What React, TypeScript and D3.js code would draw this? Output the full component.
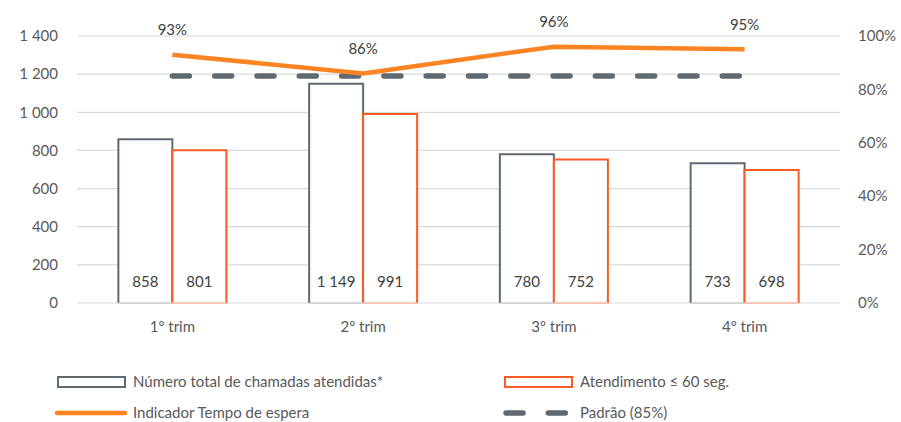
import React from 'react';
import * as d3 from 'd3';

const categories = ['1º trim', '2º trim', '3º trim', '4º trim'];
const totalCalls = [858, 1149, 780, 733];
const within60 = [801, 991, 752, 698];
const waitIndicator = [0.93, 0.86, 0.96, 0.95];
const standard = [0.85, 0.85, 0.85, 0.85];
const leftTicks = [0, 200, 400, 600, 800, 1000, 1200, 1400];
const rightTicks = [0, 0.2, 0.4, 0.6, 0.8, 1];

const GRAY = '#5f6a72';
const RED = '#fc5a24';
const ORANGE = '#fd8422';
const TEXT = '#595959';
const FONT = 'Lato, "Open Sans", sans-serif';

const fmt = (v: number) => d3.format(',')(v).replace(/,/g, ' ');

const App = () => {
  const W = 901, H = 422;
  const left = 77, right = 840, top = 36, bottom = 303;

  const x = d3.scaleBand<string>().domain(categories).range([left, right]);
  const y = d3.scaleLinear().domain([0, 1400]).range([bottom, top]);
  const y2 = d3.scaleLinear().domain([0, 1]).range([bottom, top]);
  const barW = 54;
  const cx = (c: string) => (x(c) as number) + x.bandwidth() / 2;

  const line = d3.line<number>()
    .x((_, i) => cx(categories[i]))
    .y(d => y2(d));

  // open-bottom bar outline
  const barPath = (x0: number, v: number) =>
    `M${x0},${y(0)}V${y(v)}H${x0 + barW}V${y(0)}`;

  return (
    <svg width={W} height={H} style={{ position: 'absolute', left: 0, top: 0 }} fontFamily={FONT}>
      <rect width={W} height={H} fill="#fff" />
      {leftTicks.map(t => (
        <g key={t}>
          <line x1={left} x2={right} y1={y(t)} y2={y(t)} stroke="#d9d9d9" strokeWidth={1.2} />
          <text x={58} y={y(t)} dy="0.35em" textAnchor="end" fontSize={15} fill={TEXT}>{fmt(t)}</text>
        </g>
      ))}
      {rightTicks.map(t => (
        <text key={t} x={858} y={y2(t)} dy="0.35em" fontSize={15} fill={TEXT}>{d3.format('.0%')(t)}</text>
      ))}
      {categories.map((c, i) => (
        <g key={c}>
          <path d={barPath(cx(c) - barW, totalCalls[i])} fill="#fff" stroke={GRAY} strokeWidth={2} />
          <path d={barPath(cx(c), within60[i])} fill="#fff" stroke={RED} strokeWidth={2} />
          <line x1={cx(c) - barW} x2={cx(c)} y1={bottom} y2={bottom} stroke="#c9cdd0" strokeWidth={1.5} />
          <line x1={cx(c)} x2={cx(c) + barW} y1={bottom} y2={bottom} stroke="#f9b8a1" strokeWidth={1.5} />
          <text x={cx(c) - barW / 2} y={282} dy="0.35em" textAnchor="middle" fontSize={15} fill="#404040">{fmt(totalCalls[i])}</text>
          <text x={cx(c) + barW / 2} y={282} dy="0.35em" textAnchor="middle" fontSize={15} fill="#404040">{fmt(within60[i])}</text>
          <text x={cx(c)} y={327} dy="0.35em" textAnchor="middle" fontSize={15} fill={TEXT}>{c}</text>
        </g>
      ))}
      <path d={line(standard) || ''} fill="none" stroke={GRAY} strokeWidth={5.5}
        strokeDasharray="17 25.3" strokeLinecap="round" />
      <path d={line(waitIndicator) || ''} fill="none" stroke={ORANGE} strokeWidth={4.5} />
      {waitIndicator.map((v, i) => (
        <text key={i} x={cx(categories[i])} y={y2(v) - 25} dy="0.35em" textAnchor="middle" fontSize={15} fill="#404040">
          {d3.format('.0%')(v)}
        </text>
      ))}
      {/* legend */}
      <g fontSize={15} fill={TEXT}>
        <rect x={58} y={377} width={67} height={10} fill="#fff" stroke={GRAY} strokeWidth={2} />
        <text x={133} y={382} dy="0.35em">Número total de chamadas atendidas*</text>
        <rect x={505} y={377} width={67} height={10} fill="#fff" stroke={RED} strokeWidth={2} />
        <text x={580} y={382} dy="0.35em">Atendimento ≤ 60 seg.</text>
        <line x1={57} x2={125} y1={413} y2={413} stroke={ORANGE} strokeWidth={4.5} strokeLinecap="round" />
        <text x={133} y={413} dy="0.35em">Indicador Tempo de espera</text>
        <line x1={506} x2={570} y1={413} y2={413} stroke={GRAY} strokeWidth={5.5}
          strokeDasharray="17 25.3" strokeLinecap="round" />
        <text x={580} y={413} dy="0.35em">Padrão (85%)</text>
      </g>
    </svg>
  );
};

export default App;
